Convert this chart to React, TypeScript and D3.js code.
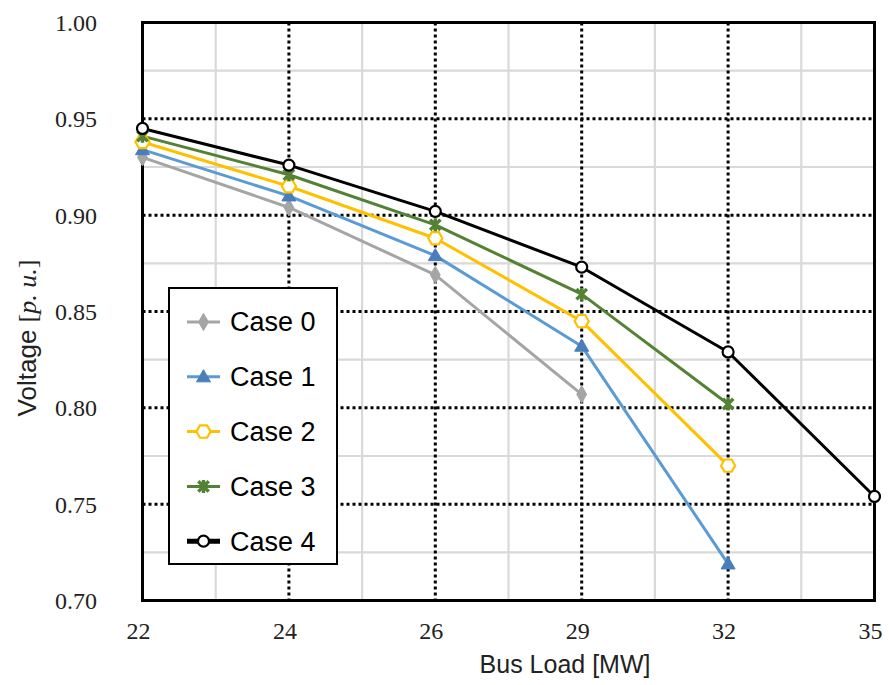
import React from "react";
import * as d3 from "d3";

const categories = ["22", "24", "26", "29", "32", "35"];
const yTicks = [0.7, 0.75, 0.8, 0.85, 0.9, 0.95, 1.0];
const yMinorTicks = [0.725, 0.775, 0.825, 0.875, 0.925, 0.975];

const case0 = [0.930, 0.904, 0.869, 0.807];
const case1 = [0.934, 0.910, 0.879, 0.832, 0.719];
const case2 = [0.938, 0.915, 0.888, 0.845, 0.770];
const case3 = [0.941, 0.921, 0.895, 0.859, 0.802];
const case4 = [0.945, 0.926, 0.902, 0.873, 0.829, 0.754];

const seriesNames = ["Case 0", "Case 1", "Case 2", "Case 3", "Case 4"];
const seriesValues = [case0, case1, case2, case3, case4];
const seriesColors = ["#a5a5a5", "#5b9bd5", "#ffc000", "#548235", "#000000"];

const W = 889;
const H = 685;
const left = 142.5;
const right = 874.5;
const top = 22.5;
const bottom = 600.5;

const hexagon = {
  draw(ctx: any, size: number) {
    const r = Math.sqrt((size * 2) / (3 * Math.sqrt(3)));
    for (let i = 0; i < 6; i++) {
      const a = (Math.PI / 3) * i;
      const px = r * Math.cos(a);
      const py = r * Math.sin(a);
      if (i === 0) ctx.moveTo(px, py);
      else ctx.lineTo(px, py);
    }
    ctx.closePath();
  },
};

const star = {
  draw(ctx: any, size: number) {
    const r = Math.sqrt(size) / 2;
    const d = r * 0.8;
    ctx.moveTo(0, -r);
    ctx.lineTo(0, r);
    ctx.moveTo(-d, -d);
    ctx.lineTo(d, d);
    ctx.moveTo(-d, d);
    ctx.lineTo(d, -d);
  },
};

function Marker({ i, x, y }: { i: number; x: number; y: number }) {
  const color = seriesColors[i];
  if (i === 0) {
    const p = d3.symbol().type(d3.symbolDiamond).size(85)()!;
    return <path d={p} transform={`translate(${x},${y})`} fill={color} stroke={color} strokeWidth={1} />;
  }
  if (i === 1) {
    const p = d3.symbol().type(d3.symbolTriangle).size(85)()!;
    return <path d={p} transform={`translate(${x},${y + 1})`} fill="#4a7ebb" stroke="#4a7ebb" strokeWidth={1} />;
  }
  if (i === 2) {
    const p = d3.symbol().type(hexagon as any).size(130)()!;
    return <path d={p} transform={`translate(${x},${y})`} fill="#ffffff" stroke={color} strokeWidth={2.2} />;
  }
  if (i === 3) {
    const p = d3.symbol().type(star as any).size(170)()!;
    return <path d={p} transform={`translate(${x},${y})`} fill="none" stroke={color} strokeWidth={3.4} />;
  }
  return <circle cx={x} cy={y} r={5.5} fill="#ffffff" stroke={color} strokeWidth={2.2} />;
}

export default function App() {
  const x = d3.scalePoint<string>().domain(categories).range([left, right]).padding(0);
  const y = d3.scaleLinear().domain([0.7, 1.0]).range([bottom, top]);

  const minorX = categories.slice(0, -1).map((c, i) => ((x(c) as number) + (x(categories[i + 1]) as number)) / 2);

  const line = d3
    .line<number>()
    .x((_, i) => x(categories[i]) as number)
    .y((d) => y(d));

  const legendX = 169;
  const legendY = 288;
  const legendW = 168;
  const legendH = 276;

  return (
    <svg width={W} height={H} style={{ position: "absolute", left: 0, top: 0, background: "#fff" }}>
      <rect x={0} y={0} width={W} height={H} fill="#ffffff" />
      {/* minor gray grid */}
      {yMinorTicks.map((t) => (
        <line key={"hy" + t} x1={left} x2={right} y1={y(t)} y2={y(t)} stroke="#d9d9d9" strokeWidth={2.2} />
      ))}
      {minorX.map((mx, i) => (
        <line key={"vx" + i} x1={mx} x2={mx} y1={top} y2={bottom} stroke="#d9d9d9" strokeWidth={2.2} />
      ))}
      {/* major dotted grid */}
      {yTicks.slice(1, -1).map((t) => (
        <line key={"my" + t} x1={left} x2={right} y1={y(t)} y2={y(t)} stroke="#000" strokeWidth={3} strokeDasharray="3 3" />
      ))}
      {categories.slice(1, -1).map((c) => (
        <line key={"mx" + c} x1={x(c)} x2={x(c)} y1={top} y2={bottom} stroke="#000" strokeWidth={3} strokeDasharray="3 3" />
      ))}
      {/* frame */}
      <rect x={left} y={top} width={right - left} height={bottom - top} fill="none" stroke="#000" strokeWidth={3} />

      {/* series */}
      {seriesValues.map((vals, i) => (
        <path
          key={"s" + i}
          d={line(vals) as string}
          fill="none"
          stroke={seriesColors[i]}
          strokeWidth={3}
          strokeLinejoin="round"
        />
      ))}
      {seriesValues.map((vals, i) =>
        vals.map((v, j) => <Marker key={`m${i}-${j}`} i={i} x={x(categories[j]) as number} y={y(v)} />)
      )}

      {/* y tick labels */}
      {yTicks.map((t) => (
        <text
          key={"yt" + t}
          x={97}
          y={y(t)}
          dy="0.35em"
          textAnchor="end"
          fontFamily="'Liberation Serif', serif"
          fontSize={24}
          fill="#222"
        >
          {t.toFixed(2)}
        </text>
      ))}
      {/* x tick labels */}
      {categories.map((c) => (
        <text
          key={"xt" + c}
          x={(x(c) as number) - 4}
          y={639}
          textAnchor="middle"
          fontFamily="'Liberation Serif', serif"
          fontSize={24}
          fill="#222"
        >
          {c}
        </text>
      ))}

      {/* axis titles */}
      <text x={565} y={673} textAnchor="middle" fontFamily="'Liberation Sans', Arial, sans-serif" fontSize={25} fill="#222">
        Bus Load [MW]
      </text>
      <text
        transform="translate(36,338) rotate(-90)"
        textAnchor="middle"
        fontSize={26}
        fill="#222"
        fontFamily="'Liberation Sans', Arial, sans-serif"
      >
        <tspan>Voltage </tspan>
        <tspan fontFamily="'Liberation Serif', serif">[</tspan>
        <tspan fontFamily="'Liberation Serif', serif" fontStyle="italic">p. u.</tspan>
        <tspan fontFamily="'Liberation Serif', serif">]</tspan>
      </text>

      {/* legend */}
      <rect x={legendX} y={legendY} width={legendW} height={legendH} fill="#ffffff" stroke="#000" strokeWidth={2} />
      {seriesNames.map((name, i) => {
        const cy = 322 + i * 54.8;
        return (
          <g key={"lg" + i}>
            <line x1={187} x2={220} y1={cy} y2={cy} stroke={seriesColors[i]} strokeWidth={i === 4 ? 5 : 3} />
            <Marker i={i} x={203.5} y={cy} />
            <text x={230} y={cy} dy="0.35em" fontFamily="'Liberation Sans', Arial, sans-serif" fontSize={27} fill="#000">
              {name}
            </text>
          </g>
        );
      })}
    </svg>
  );
}
